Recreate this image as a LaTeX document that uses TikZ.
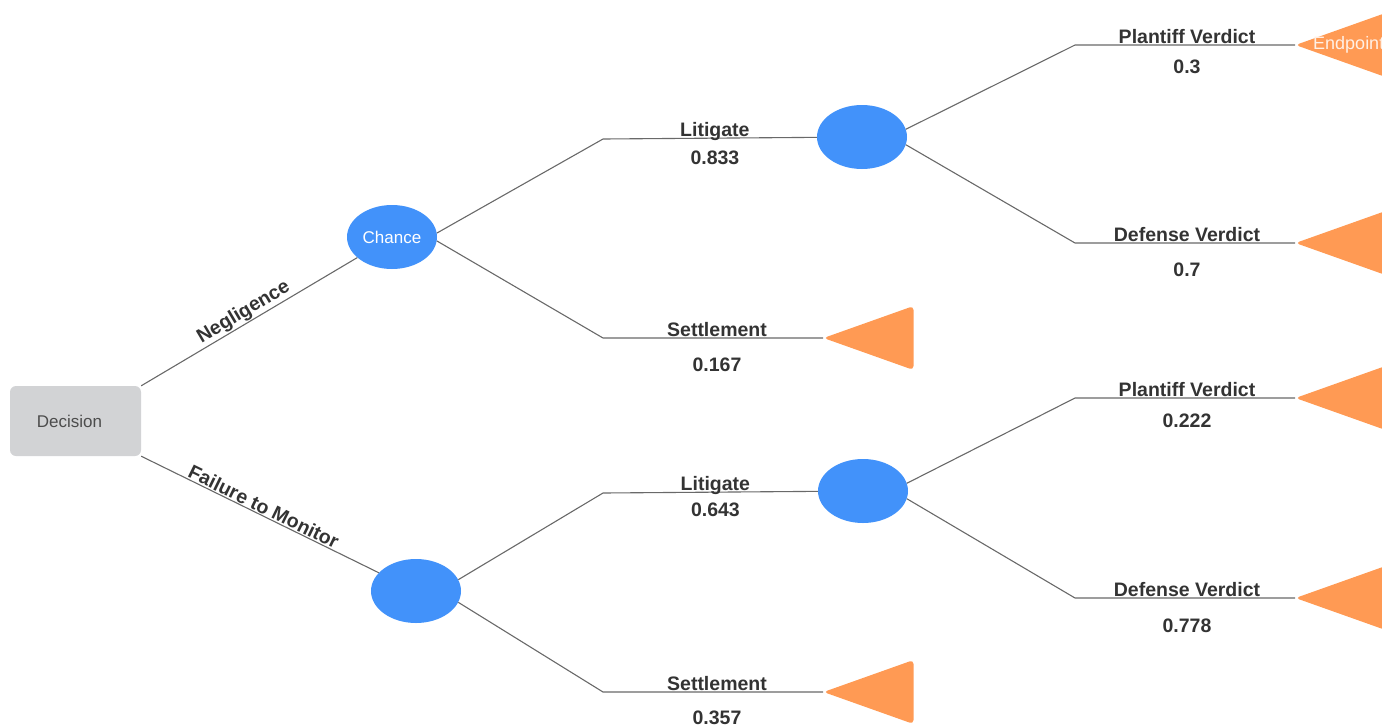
\documentclass[tikz,border=0pt]{standalone}
\usepackage{fontspec}
\setmainfont{Liberation Sans}
\usetikzlibrary{shapes.geometric}
\definecolor{chanceblue}{RGB}{66,146,250}
\definecolor{endorange}{RGB}{255,154,84}
\definecolor{decgray}{RGB}{210,211,213}
\definecolor{linegray}{RGB}{105,105,105}
\definecolor{textgray}{RGB}{51,51,51}
\tikzset{
  decision/.style={fill=decgray, rounded corners=6pt, minimum width=131pt, minimum height=70pt,
    text=black!70, font=\fontsize{17}{20}\selectfont},
  chance/.style={ellipse, fill=chanceblue, minimum width=90pt, minimum height=64pt, inner sep=0pt,
    text=white, font=\fontsize{17}{20}\selectfont},
  endpt/.style={isosceles triangle, isosceles triangle stretches, shape border rotate=180,
    minimum width=64pt, minimum height=90pt, inner sep=0pt, fill=endorange, rounded corners=4pt, anchor=apex},
  branch/.style={draw=linegray, line width=1.1pt},
  lab/.style={font=\bfseries\fontsize{19.5}{22}\selectfont, text=textgray, inner sep=1pt},
  toplab/.style={lab, anchor=base, yshift=2pt},
}
\begin{document}
\begin{tikzpicture}[x=1pt,y=-1pt]
  \path[use as bounding box, clip] (0,0) rectangle (1382,724);

  % decision and chance nodes
  \node[decision] (dec) at (75.5,421) {\hspace*{-12pt}Decision};
  \node[chance] (ch1) at (392,237) {Chance};
  \node[chance] (ch2) at (416,591) {};
  \node[chance] (ch3) at (862,137) {};
  \node[chance] (ch4) at (863,491) {};

  % endpoints (the right ones run off the page)
  \node[endpt] (e1) at (1295,45) {};
  \node[endpt] (e2) at (1295,243) {};
  \node[endpt] (e3) at (823,338) {};
  \node[endpt] (e4) at (1295,398) {};
  \node[endpt] (e5) at (1295,598) {};
  \node[endpt] (e6) at (823,692) {};
  \node[anchor=west, xshift=18pt, text=white!85!endorange, font=\fontsize{18}{20}\selectfont, inner sep=0pt]
    (eptxt) at (e1.apex) {Endpoint};

  % first split
  \draw[branch] (dec.north east) -- node[lab, sloped, above] {Negligence} (ch1);
  \draw[branch] (dec.south east) -- node[lab, sloped, above] {Failure to Monitor} (ch2);

  % negligence
  \draw[branch] (ch1.5) -- (603,139) -- node[toplab, xshift=5pt] {Litigate} node[lab, below=11pt, xshift=5pt] {0.833} (ch3);
  \draw[branch] (ch1.-5) -- (603,338) -- node[toplab, xshift=4pt] {Settlement} node[lab, below=18pt, xshift=4pt] {0.167} (e3);
  \draw[branch] (ch3.10) -- (1075,45) -- node[toplab, xshift=2pt] {Plantiff Verdict} node[lab, below=13pt, xshift=2pt] {0.3} (e1);
  \draw[branch] (ch3.-10) -- (1075,243) -- node[toplab, xshift=2pt] {Defense Verdict} node[lab, below=18pt, xshift=2pt] {0.7} (e2);

  % failure to monitor
  \draw[branch] (ch2.15) -- (603,493) -- node[toplab, xshift=5pt] {Litigate} node[lab, below=9pt, xshift=5pt] {0.643} (ch4);
  \draw[branch] (ch2.-15) -- (603,692) -- node[toplab, xshift=4pt] {Settlement} node[lab, below=17pt, xshift=4pt] {0.357} (e6);
  \draw[branch] (ch4.10) -- (1075,398) -- node[toplab, xshift=2pt] {Plantiff Verdict} node[lab, below=14pt, xshift=2pt] {0.222} (e4);
  \draw[branch] (ch4.-10) -- (1075,598) -- node[toplab, xshift=2pt] {Defense Verdict} node[lab, below=19pt, xshift=2pt] {0.778} (e5);
\end{tikzpicture}
\end{document}
